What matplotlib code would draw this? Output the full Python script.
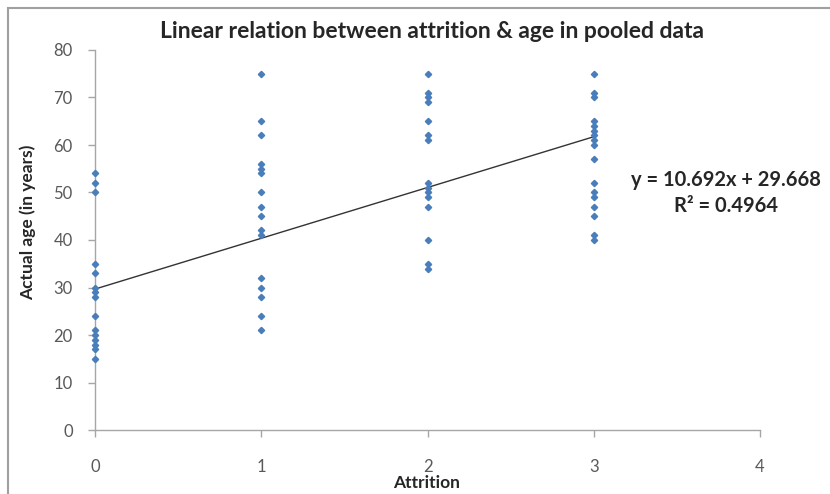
"""Scatter of age vs attrition with linear trend line."""
import matplotlib.pyplot as plt
import numpy as np
from matplotlib.patches import Rectangle

plt.rcParams["font.family"] = ["Lato", "DejaVu Sans"]

# ages, one list per attrition level
ages_0 = [54, 52, 50, 35, 33, 30, 29, 28, 24, 21, 20, 19, 18, 17, 15]
ages_1 = [75, 65, 62, 56, 55, 54, 50, 47, 45, 42, 41, 32, 30, 28, 24, 21]
ages_2 = [75, 71, 70, 69, 65, 62, 61, 52, 51, 50, 49, 47, 40, 35, 34]
ages_3 = [75, 71, 70, 65, 64, 63, 62, 61, 60, 57, 52, 50, 49, 47, 45, 41, 40]
levels = [0, 1, 2, 3]

slope = 10.692
intercept = 29.668
r2 = 0.4964

title = "Linear relation between attrition & age in pooled data"
xlabel = "Attrition"
ylabel = "Actual age (in years)"

W, H = 830, 494
fig = plt.figure(figsize=(W / 100, H / 100), dpi=100)
ax = fig.add_axes([95 / W, 1 - 430 / H, (760 - 95) / W, (430 - 50) / H])

xs, ys = [], []
for lv, ages in zip(levels, [ages_0, ages_1, ages_2, ages_3]):
    xs += [lv] * len(ages)
    ys += ages
ax.plot(xs, ys, ls="none", marker="D", ms=3.2, color="#4a7ebb", clip_on=False, zorder=3)

fit_x = np.array([levels[0], levels[-1]])
ax.plot(fit_x, slope * fit_x + intercept, color="#333333", lw=1.0, zorder=2)

ax.set_xlim(0, 4)
ax.set_ylim(0, 80)
ax.set_xticks([0, 1, 2, 3, 4])
ax.set_yticks(range(0, 81, 10))
for s in ["top", "right"]:
    ax.spines[s].set_visible(False)
for s in ["left", "bottom"]:
    ax.spines[s].set_color("#a6a6a6")
    ax.spines[s].set_linewidth(1.0)
ax.tick_params(axis="both", colors="#a6a6a6", length=5, width=1.0,
               labelsize=12, labelcolor="#595959")
ax.tick_params(axis="x", pad=16)
ax.tick_params(axis="y", pad=11)

fig.text(432 / W, 1 - 31 / H, title, ha="center", va="center",
         fontsize=16.5, fontweight="bold", color="#262626")
fig.text(427 / W, 1 - 483 / H, xlabel, ha="center", va="center",
         fontsize=12.5, fontweight="bold", color="#262626")
fig.text(28 / W, 1 - 222 / H, ylabel, ha="center", va="center", rotation=90,
         fontsize=12.5, fontweight="bold", color="#262626")
fig.text(726 / W, 1 - 180 / H, f"y = {slope}x + {intercept}", ha="center", va="center",
         fontsize=14.5, fontweight="bold", color="#262626")
fig.text(726 / W, 1 - 206 / H, f"R² = {r2}", ha="center", va="center",
         fontsize=14.5, fontweight="bold", color="#262626")

# outer chart frame (cropped at right/bottom)
fig.patches.append(Rectangle((8 / W, -0.1), 1.2, 1 - 8 / H + 0.1, transform=fig.transFigure,
                             fill=False, edgecolor="#a0a0a0", lw=1.5))

fig.savefig("out.png", dpi=100)
